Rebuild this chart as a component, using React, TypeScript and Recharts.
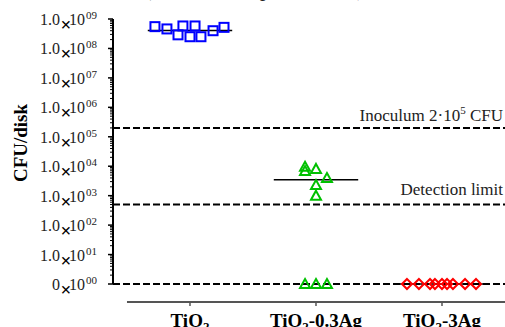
import { ScatterChart, Scatter, XAxis, YAxis, ReferenceLine } from 'recharts';

const SERIF = 'Liberation Serif, Times New Roman, serif';
const serif = { fontFamily: SERIF };

const categories = ['TiO2', 'TiO2-0.3Ag', 'TiO2-3Ag'];

// horizontal spread of the points around each category (category units)
const jitter9 = [-0.278, -0.183, -0.095, -0.056, 0, 0.04, 0.087, 0.183, 0.27];
const jitter3 = [-0.087, 0, 0.087];

// CFU/disk; a value of 1 sits on the "0" line at the foot of the log axis
const tio2Values = [5.5e8, 4.6e8, 2.9e8, 5.8e8, 2.5e8, 5.8e8, 2.5e8, 4.0e8, 5.2e8];
const ag03Values = [9.6e3, 6.9e3, 8.1e3, 4.0e3, 2.3e3, 1.0e3];
const ag03Offsets = [-0.087, -0.087, 0, 0.087, 0, 0];
const ag03Zeros = [1, 1, 1];
const ag3Values = [1, 1, 1, 1, 1, 1, 1, 1, 1];
const medians = [4.1e8, 3.5e3, 1];

const inoculum = 2e5;
const detectionLimit = 500;

const decades = [0, 1, 2, 3, 4, 5, 6, 7, 8, 9];
const yTicks: number[] = [];
decades.forEach((d) => {
  yTicks.push(Math.pow(10, d));
  if (d < 9) for (let m = 2; m <= 9; m++) yTicks.push(m * Math.pow(10, d));
});

const W = 505;
const H = 327;
const Y_AXIS_W = 113;
const X_DOMAIN: [number, number] = [-0.611, 2.5];
const UNIT_PX = (W - Y_AXIS_W) / (X_DOMAIN[1] - X_DOMAIN[0]);

const tio2 = tio2Values.map((y, i) => ({ x: 0 + jitter9[i], y }));
const ag03 = [
  ...ag03Values.map((y, i) => ({ x: 1 + ag03Offsets[i], y })),
  ...ag03Zeros.map((y, i) => ({ x: 1 + jitter3[i], y })),
];
const ag3 = ag3Values.map((y, i) => ({ x: 2 + jitter9[i], y }));

const Square = (p: any) => (
  <rect x={p.cx - 4.5} y={p.cy - 4.5} width={9} height={9} fill="none" stroke="#0000ff" strokeWidth={2} />
);
const Triangle = (p: any) => (
  <polygon
    points={`${p.cx},${p.cy - 5} ${p.cx + 5},${p.cy + 4} ${p.cx - 5},${p.cy + 4}`}
    fill="none"
    stroke="#00c000"
    strokeWidth={2}
  />
);
const Diamond = (p: any) => (
  <polygon
    points={`${p.cx},${p.cy - 5} ${p.cx + 5},${p.cy} ${p.cx},${p.cy + 5} ${p.cx - 5},${p.cy}`}
    fill="none"
    stroke="#ff0000"
    strokeWidth={2}
  />
);

const YTick = (props: any) => {
  const { y, payload } = props;
  const lg = Math.log10(payload.value);
  const e = Math.round(lg);
  const major = Math.abs(lg - e) < 1e-6;
  if (!major) {
    return <line x1={Y_AXIS_W - 3} x2={Y_AXIS_W} y1={y} y2={y} stroke="#000" strokeWidth={1} />;
  }
  return (
    <g>
      <line x1={Y_AXIS_W - 5} x2={Y_AXIS_W} y1={y} y2={y} stroke="#000" strokeWidth={1.5} />
      <text x={60} y={y + 6} textAnchor="end" style={{ ...serif, fontSize: 16 }} fill="#222">{e === 0 ? '0' : '1.0'}</text>
      <text x={85} y={y + 6} textAnchor="end" style={{ ...serif, fontSize: 16 }} fill="#222">10</text>
      <text x={97} y={y} textAnchor="end" style={{ ...serif, fontSize: 11 }} fill="#222">{String(e).padStart(2, '0')}</text>
      <text x={66} y={y + 12} textAnchor="middle" style={{ ...serif, fontSize: 19, fontWeight: 'bold' }} fill="#000">×</text>
    </g>
  );
};

const XTick = (props: any) => {
  const { x, payload } = props;
  const name: string = categories[payload.value] || '';
  const rest = name.slice(4);
  const lineY = 302;
  return (
    <g>
      <line x1={x - UNIT_PX / 2} x2={x + UNIT_PX / 2} y1={lineY} y2={lineY} stroke="#555" strokeWidth={2} />
      <line x1={x} x2={x} y1={lineY} y2={lineY + 4} stroke="#555" strokeWidth={1.5} />
      <text x={x} y={327} textAnchor="middle" style={{ ...serif, fontSize: 19, fontWeight: 'bold' }} fill="#000">
        TiO<tspan dy={4} style={{ fontSize: 13 }}>2</tspan>
        {rest && <tspan dy={-4}>{rest}</tspan>}
      </text>
    </g>
  );
};

const dashed = { stroke: '#000', strokeWidth: 2, strokeDasharray: '7 3' };

export default function App() {
  return (
    <div style={{ position: 'absolute', left: 0, top: 0, width: W, height: H, overflow: 'hidden', background: '#fff' }}>
      <div
        style={{
          position: 'absolute',
          left: 0,
          width: 512,
          top: -24,
          textAlign: 'center',
          fontFamily: SERIF,
          fontStyle: 'italic',
          fontSize: 22,
          color: '#222',
          whiteSpace: 'nowrap',
        }}
      >
        (n = 9 disks, p &lt; 0.0001)
      </div>
      <ScatterChart width={W} height={H} margin={{ top: 19, right: 0, left: 0, bottom: 0 }}>
        <XAxis
          type="number"
          dataKey="x"
          domain={X_DOMAIN}
          ticks={[0, 1, 2]}
          interval={0}
          axisLine={false}
          tickLine={false}
          tick={<XTick />}
          height={43}
        />
        <YAxis
          type="number"
          dataKey="y"
          scale="log"
          domain={[1, 1e9]}
          ticks={yTicks}
          interval={0}
          width={Y_AXIS_W}
          axisLine={{ stroke: '#000', strokeWidth: 2 }}
          tickLine={false}
          tick={<YTick />}
          label={{
            content: () => (
              <text
                x={20}
                y={143}
                transform="rotate(-90 20 143)"
                textAnchor="middle"
                dominantBaseline="central"
                style={{ ...serif, fontWeight: 'bold', fontSize: 19 }}
                fill="#000"
              >
                CFU/disk
              </text>
            ),
          }}
        />
        <ReferenceLine
          y={inoculum}
          {...dashed}
          ifOverflow="visible"
          label={{
            content: (p: any) => (
              <text x={p.viewBox.x + p.viewBox.width - 2} y={p.viewBox.y - 7} textAnchor="end" style={{ ...serif, fontSize: 17 }} fill="#222">
                Inoculum 2·10<tspan dy={-7} style={{ fontSize: 11 }}>5</tspan>
                <tspan dy={7}> CFU</tspan>
              </text>
            ),
          }}
        />
        <ReferenceLine
          y={detectionLimit}
          {...dashed}
          ifOverflow="visible"
          label={{
            content: (p: any) => (
              <text x={p.viewBox.x + p.viewBox.width - 2} y={p.viewBox.y - 10} textAnchor="end" style={{ ...serif, fontSize: 17 }} fill="#222">
                Detection limit
              </text>
            ),
          }}
        />
        <ReferenceLine y={1} {...dashed} ifOverflow="visible" />
        {medians.map((m, i) => (
          <ReferenceLine
            key={i}
            segment={[{ x: i - 0.335, y: m }, { x: i + 0.335, y: m }]}
            stroke="#000"
            strokeWidth={1.5}
            ifOverflow="visible"
          />
        ))}
        <Scatter data={tio2} shape={Square} isAnimationActive={false} />
        <Scatter data={ag03} shape={Triangle} isAnimationActive={false} />
        <Scatter data={ag3} shape={Diamond} isAnimationActive={false} />
      </ScatterChart>
    </div>
  );
}
